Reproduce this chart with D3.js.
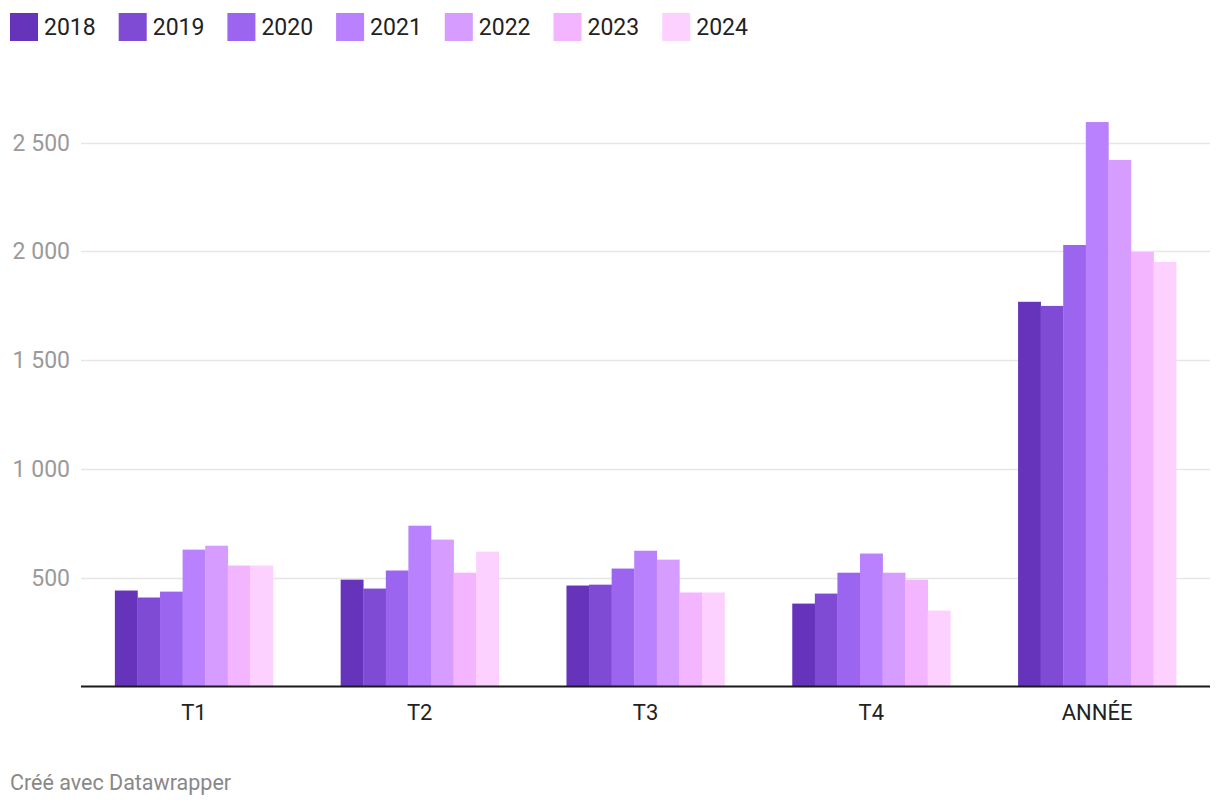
<!DOCTYPE html>
<html>
<head>
<meta charset="utf-8">
<script src="https://cdn.jsdelivr.net/npm/d3@7/dist/d3.min.js"></script>
<style>
  html, body { margin: 0; padding: 0; background: #fff; }
  svg { display: block; font-family: Roboto, "Noto Sans", sans-serif; }
</style>
</head>
<body>
<svg id="chart" width="1220" height="808"></svg>
<script>
const categories = ["T1", "T2", "T3", "T4", "ANNÉE"];
const years = ["2018", "2019", "2020", "2021", "2022", "2023", "2024"];
const colors = ["#6633bb", "#804bd4", "#9b65ef", "#b981fe", "#d79cff", "#f3b5ff", "#fdd1ff"];
const values2018 = [441, 491, 464, 381, 1768];
const values2019 = [409, 450, 468, 427, 1749];
const values2020 = [436, 533, 542, 523, 2029];
const values2021 = [629, 739, 624, 611, 2594];
const values2022 = [647, 675, 583, 523, 2420];
const values2023 = [556, 523, 432, 491, 1997];
const values2024 = [556, 620, 432, 349, 1951];
const yTicks = [500, 1000, 1500, 2000, 2500];
const footer = "Créé avec Datawrapper";

const series = [values2018, values2019, values2020, values2021, values2022, values2023, values2024];

const svg = d3.select("#chart");
const plotLeft = 81, plotRight = 1210, zeroY = 686.5, topVal = 2500, topY = 142.5;

const y = d3.scaleLinear().domain([0, topVal]).range([zeroY, topY]);
const x0 = d3.scaleBand().domain(categories).range([plotLeft, plotRight]).paddingInner(0).paddingOuter(0);
const x1 = d3.scaleBand().domain(years)
  .range([x0.bandwidth() * 0.15, x0.bandwidth() * 0.85]).padding(0);

const fmt = v => d3.format(",")(v).replace(/,/g, " ");

// gridlines
const grid = svg.append("g");
grid.selectAll("line").data(yTicks).join("line")
  .attr("x1", plotLeft).attr("x2", plotRight)
  .attr("y1", d => Math.round(y(d)) + 0.5).attr("y2", d => Math.round(y(d)) + 0.5)
  .attr("stroke", "#e6e6e6").attr("stroke-width", 1.5);
grid.selectAll("text").data(yTicks).join("text")
  .attr("x", 70).attr("y", d => y(d)).attr("dy", "0.35em")
  .attr("text-anchor", "end")
  .attr("fill", "#9a9a9a").attr("font-size", 23)
  .text(d => fmt(d));

// bars
const groups = svg.append("g").selectAll("g").data(categories).join("g")
  .attr("transform", d => `translate(${x0(d)},0)`);
groups.selectAll("rect").data((c, ci) => years.map((yr, yi) => ({ yr, yi, v: series[yi][ci] })))
  .join("rect")
  .attr("x", d => x1(d.yr))
  .attr("width", x1.bandwidth() + 0.3)
  .attr("y", d => y(d.v))
  .attr("height", d => y(0) - y(d.v))
  .attr("fill", d => colors[d.yi]);

// baseline
svg.append("line").attr("x1", plotLeft).attr("x2", plotRight)
  .attr("y1", zeroY).attr("y2", zeroY)
  .attr("stroke", "#1a1a1a").attr("stroke-width", 2);

// x axis labels
svg.append("g").selectAll("text").data(categories).join("text")
  .attr("x", d => x0(d) + x0.bandwidth() / 2)
  .attr("y", 720)
  .attr("text-anchor", "middle")
  .attr("fill", "#222").attr("font-size", 22)
  .text(d => d);

// legend
const legend = svg.append("g").selectAll("g").data(years).join("g")
  .attr("transform", (d, i) => `translate(${10 + i * 108.7},13)`);
legend.append("rect").attr("width", 28).attr("height", 28)
  .attr("fill", (d, i) => colors[i]);
legend.append("text").attr("x", 34).attr("y", 14).attr("dy", "0.35em")
  .attr("fill", "#222").attr("font-size", 23)
  .text(d => d);

// footer
svg.append("text").attr("x", 10).attr("y", 790)
  .attr("fill", "#888").attr("font-size", 21.5)
  .text(footer);
</script>
</body>
</html>
